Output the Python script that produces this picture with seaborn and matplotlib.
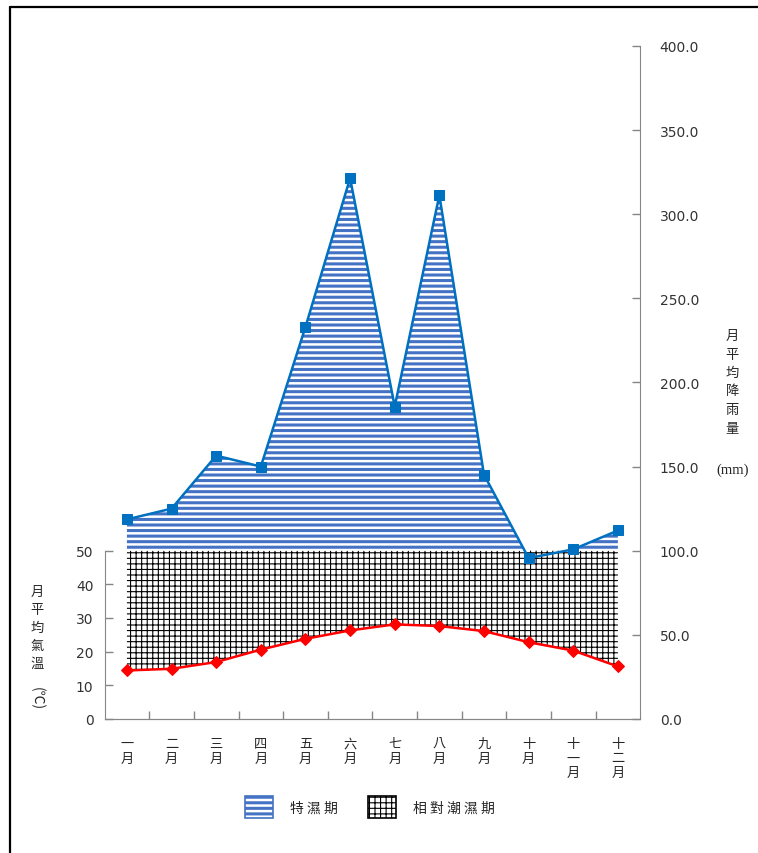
import numpy as np
import pandas as pd
import seaborn as sns
import matplotlib
matplotlib.use('Agg')
import matplotlib.pyplot as plt
from matplotlib.patches import Patch
from matplotlib.lines import Line2D

# monthly climate values
months = ['一\n月', '二\n月', '三\n月', '四\n月', '五\n月', '六\n月',
          '七\n月', '八\n月', '九\n月', '十\n月', '十\n一\n月', '十\n二\n月']
rain_mm = [118.6, 125.0, 156.5, 150.0, 233.0, 321.4,
           185.7, 311.3, 145.2, 95.6, 100.8, 112.0]
temp_c = [14.4, 14.9, 16.9, 20.6, 23.8, 26.3,
          28.1, 27.6, 26.1, 22.8, 20.3, 15.6]
rain_ticks = [0, 50, 100, 150, 200, 250, 300, 350, 400]
temp_ticks = [0, 10, 20, 30, 40, 50]
legend_labels = ['特 濕 期', '相 對 潮 濕 期']

sns.set_style('white')
plt.rcParams['font.family'] = ['Noto Sans CJK TC', 'DejaVu Sans']

data = pd.DataFrame({'month': np.arange(len(months)),
                     'rain': rain_mm, 'temp': temp_c})
x = data['month'].to_numpy()
rain = data['rain'].to_numpy()
temp = data['temp'].to_numpy()

fig = plt.figure(figsize=(7.58, 8.54), dpi=100)
ax_t = fig.add_axes([0.138, 0.157, 0.7066, 0.788])
ax_r = ax_t.twinx()

# temperature axis: 50 C lines up with 100 mm
ax_t.set_ylim(0, 200)
ax_r.set_ylim(0, 400)
ax_t.set_xlim(-0.5, 11.5)

blue = '#0070C0'
stripe = '#4472C4'
grid_lw = 0.8
stripe_lw = 2.2


def set_hatch_lw(artist, lw):
    if hasattr(artist, 'set_hatch_linewidth'):
        artist.set_hatch_linewidth(lw)


# relatively humid period (grid hatch)
grid_fill = ax_t.fill_between(x, temp, 50, facecolor='white',
                              edgecolor='black', hatch='+++', linewidth=0)
# wet period (horizontal stripes)
wet_fill = ax_r.fill_between(x, 100, rain, where=rain >= 100,
                             interpolate=True, facecolor='white',
                             edgecolor=stripe, hatch='---', linewidth=0)
set_hatch_lw(grid_fill, grid_lw)
set_hatch_lw(wet_fill, stripe_lw)

sns.lineplot(data=data, x='month', y='temp', ax=ax_t, color='#FF0000',
             marker='D', markersize=6, markeredgecolor='#FF0000',
             linewidth=1.8, zorder=5)
sns.lineplot(data=data, x='month', y='rain', ax=ax_r, color=blue,
             marker='s', markersize=7, markeredgecolor=blue,
             linewidth=1.8, zorder=5)

spine_col = '#868686'
for a in (ax_t, ax_r):
    for side in a.spines:
        a.spines[side].set_color(spine_col)
    a.spines['top'].set_visible(False)
ax_t.spines['right'].set_visible(False)
ax_r.spines['left'].set_visible(False)
ax_t.spines['left'].set_bounds(0, 50)

ax_t.set_yticks(temp_ticks)
ax_t.set_yticklabels([str(t) for t in temp_ticks], family='DejaVu Sans',
                     fontsize=10, color='#333333')
ax_r.set_yticks(rain_ticks)
ax_r.set_yticklabels(['%.1f' % t for t in rain_ticks], family='DejaVu Sans',
                     fontsize=10, color='#333333')
ax_t.tick_params(axis='y', direction='in', length=6, width=1,
                 color=spine_col, pad=8, left=True)
ax_r.tick_params(axis='y', direction='in', length=6, width=1,
                 color=spine_col, pad=14, right=True)

ax_t.set_xticks(x)
ax_t.set_xticklabels(months, fontsize=9.5, linespacing=1.15,
                     family=['Noto Sans CJK TC', 'DejaVu Sans'])
ax_t.set_xticks(x[:-1] + 0.5, minor=True)
ax_t.tick_params(axis='x', which='major', length=0, pad=13, bottom=True)
ax_t.tick_params(axis='x', which='minor', direction='in', length=6,
                 width=1, color=spine_col, bottom=True)
ax_t.set_xlabel('')
ax_t.set_ylabel('')
ax_r.set_ylabel('')

# axis titles, stacked vertically
fig.text(0.049, 1 - 586 / 854, '月\n平\n均\n氣\n溫', ha='center', va='top',
         fontsize=9.5, linespacing=1.5)
fig.text(0.049, 1 - 699 / 854, '(℃)', ha='center', va='center',
         rotation=-90, fontsize=10,
         family=['Noto Sans CJK TC', 'DejaVu Sans'])
fig.text(0.966, 1 - 330 / 854, '月\n平\n均\n降\n雨\n量', ha='center',
         va='top', fontsize=9.5, linespacing=1.55)
fig.text(0.966, 1 - 470 / 854, '(mm)', ha='center', va='center',
         fontsize=10.5, family='Liberation Serif')

# legend
handles = [Patch(facecolor='white', edgecolor=stripe, hatch='---',
                 linewidth=1.2),
           Patch(facecolor='white', edgecolor='black', hatch='+++',
                 linewidth=1.2)]
leg = fig.legend(handles, legend_labels, loc='center', ncol=2,
                 bbox_to_anchor=(0.488, 1 - 808 / 854), frameon=False,
                 fontsize=10, handlelength=2.0, handleheight=2.1,
                 handletextpad=1.2, columnspacing=2.2)
for p, lw in zip(leg.get_patches(), [stripe_lw, grid_lw]):
    set_hatch_lw(p, lw)

# outer frame lines (left and top)
fig.add_artist(Line2D([0.0132, 0.0132], [0, 0.9906], color='black',
                      linewidth=1.6, transform=fig.transFigure))
fig.add_artist(Line2D([0.0132, 1], [0.9906, 0.9906], color='black',
                      linewidth=1.6, transform=fig.transFigure))

fig.savefig('out.png', dpi=100)
